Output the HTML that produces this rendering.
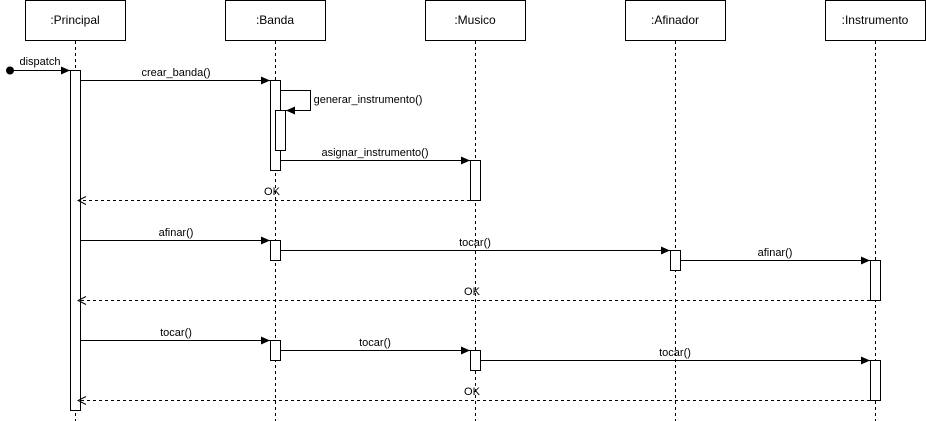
<!DOCTYPE html>
<html><head><meta charset="utf-8"><style>
html,body{margin:0;padding:0;background:#fff;}
svg{display:block;font-family:"Liberation Sans",Arial,sans-serif;font-size:11px;}
</style></head><body>
<svg width="926" height="421" viewBox="0 0 926 421" xmlns="http://www.w3.org/2000/svg">
<defs>
<marker id="f" markerWidth="10" markerHeight="8" refX="9" refY="4" orient="auto" markerUnits="userSpaceOnUse"><path d="M0,0 L9,4 L0,8 Z" fill="#000"/></marker>
<marker id="o" markerWidth="10" markerHeight="10" refX="9" refY="5" orient="auto" markerUnits="userSpaceOnUse"><path d="M1,1 L9,5 L1,9" fill="none" stroke="#000"/></marker>
</defs>
<g stroke="#000" fill="#fff">
<rect x="25.5" y="0.5" width="100" height="40"/>
<rect x="225.5" y="0.5" width="100" height="40"/>
<rect x="425.5" y="0.5" width="100" height="40"/>
<rect x="625.5" y="0.5" width="100" height="40"/>
<rect x="825.5" y="0.5" width="100" height="40"/>
</g>
<g fill="#000" text-anchor="middle" font-size="12">
<text x="75" y="24">:Principal</text>
<text x="275" y="24">:Banda</text>
<text x="475" y="24">:Musico</text>
<text x="675" y="24">:Afinador</text>
<text x="875" y="24">:Instrumento</text>
</g>
<g stroke="#000" stroke-dasharray="3,3">
<line x1="75.5" y1="41" x2="75.5" y2="421"/>
<line x1="275.5" y1="41" x2="275.5" y2="421"/>
<line x1="475.5" y1="41" x2="475.5" y2="421"/>
<line x1="675.5" y1="41" x2="675.5" y2="421"/>
<line x1="875.5" y1="41" x2="875.5" y2="421"/>
</g>
<g stroke="#000" fill="#fff">
<rect x="70.5" y="70.5" width="10" height="340"/>
<rect x="270.5" y="80.5" width="10" height="90"/>
<rect x="275.5" y="110.5" width="10" height="40"/>
<rect x="470.5" y="160.5" width="10" height="40"/>
<rect x="270.5" y="240.5" width="10" height="20"/>
<rect x="670.5" y="250.5" width="10" height="20"/>
<rect x="870.5" y="260.5" width="10" height="40"/>
<rect x="270.5" y="340.5" width="10" height="20"/>
<rect x="470.5" y="350.5" width="10" height="20"/>
<rect x="870.5" y="360.5" width="10" height="40"/>
</g>
<circle cx="10" cy="70.5" r="4" fill="#000"/>
<g stroke="#000" fill="none" marker-end="url(#f)">
<line x1="10" y1="70.5" x2="70" y2="70.5"/>
<line x1="81" y1="80.5" x2="270" y2="80.5"/>
<polyline points="281,90.5 310.5,90.5 310.5,110.5 286,110.5"/>
<line x1="281" y1="160.5" x2="470" y2="160.5"/>
<line x1="81" y1="240.5" x2="270" y2="240.5"/>
<line x1="281" y1="250.5" x2="670" y2="250.5"/>
<line x1="681" y1="260.5" x2="870" y2="260.5"/>
<line x1="81" y1="340.5" x2="270" y2="340.5"/>
<line x1="281" y1="350.5" x2="470" y2="350.5"/>
<line x1="481" y1="360.5" x2="870" y2="360.5"/>
</g>
<g stroke="#000" fill="none" stroke-dasharray="3,3" marker-end="url(#o)">
<line x1="470" y1="200.5" x2="78" y2="200.5"/>
<line x1="870" y1="300.5" x2="78" y2="300.5"/>
<line x1="870" y1="400.5" x2="78" y2="400.5"/>
</g>
<g fill="#000" text-anchor="middle">
<text x="40" y="65">dispatch</text>
<text x="176" y="76">crear_banda()</text>
<text x="368" y="103">generar_instrumento()</text>
<text x="375" y="156">asignar_instrumento()</text>
<text x="272" y="195">OK</text>
<text x="176" y="236">afinar()</text>
<text x="475" y="246">tocar()</text>
<text x="775" y="256">afinar()</text>
<text x="472" y="295">OK</text>
<text x="176" y="336">tocar()</text>
<text x="375" y="346">tocar()</text>
<text x="675" y="356">tocar()</text>
<text x="472" y="395">OK</text>
</g>
</svg>
</body></html>
